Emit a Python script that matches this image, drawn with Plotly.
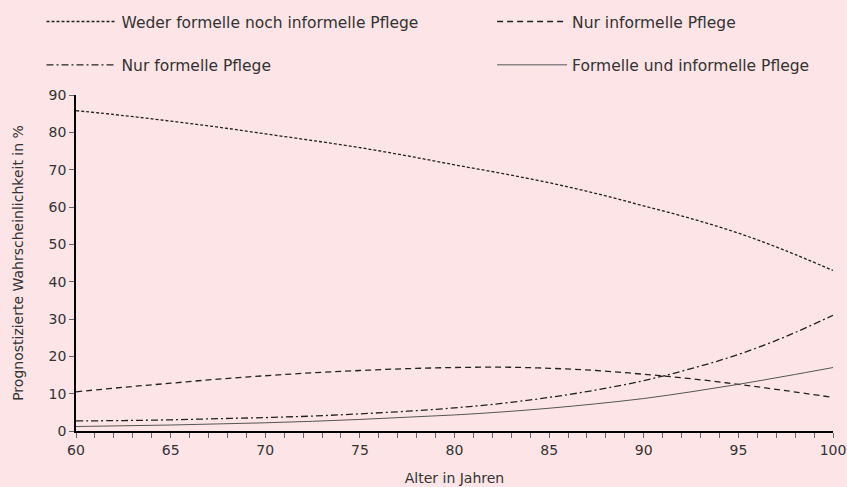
import plotly.graph_objects as go

age = [60, 62.5, 65, 67.5, 70, 72.5, 75, 77.5, 80, 82.5, 85, 87.5, 90, 92.5, 95, 97.5, 100]
weder = [85.8, 84.5, 83.0, 81.4, 79.6, 77.8, 75.9, 73.7, 71.3, 69.0, 66.5, 63.6, 60.3, 56.9, 53.0, 48.3, 43.0]
nur_informell = [10.5, 11.7, 12.8, 13.9, 14.8, 15.6, 16.2, 16.7, 17.0, 17.1, 16.8, 16.2, 15.2, 14.0, 12.5, 10.8, 9.0]
nur_formell = [2.7, 2.8, 3.0, 3.3, 3.6, 4.0, 4.6, 5.3, 6.2, 7.4, 9.0, 11.0, 13.5, 16.7, 20.5, 25.3, 31.0]
beides = [1.2, 1.4, 1.6, 1.9, 2.2, 2.6, 3.1, 3.7, 4.3, 5.1, 6.1, 7.3, 8.7, 10.5, 12.5, 14.7, 17.0]

names = ["Weder formelle noch informelle Pflege", "Nur informelle Pflege",
         "Nur formelle Pflege", "Formelle und informelle Pflege"]
series = [weder, nur_informell, nur_formell, beides]
dashes = ["3px,2px", "6px,4px", "7px,3px,2px,3px", "solid"]
colors = ["#222222", "#222222", "#222222", "#555555"]
widths = [1.3, 1.3, 1.3, 1.0]
legend_ids = ["legend2", "legend3", "legend4", "legend5"]
legend_x = [0.049, 0.581, 0.049, 0.581]
legend_y = [0.955, 0.955, 0.866, 0.866]

bg = "#FDE4E6"
fig = go.Figure()
for n, s, d, c, w, lg in zip(names, series, dashes, colors, widths, legend_ids):
    fig.add_trace(go.Scatter(x=age, y=s, name=n, mode="lines", line_shape="spline",
                             line=dict(color=c, width=w, dash=d), legend=lg))

fam = "'DejaVu Sans', sans-serif"
font = dict(family=fam, size=14, color="#333333")
legs = {}
for lg, lx, ly in zip(legend_ids, legend_x, legend_y):
    legs[lg] = dict(orientation="h", xref="container", yref="container", x=lx, y=ly,
                    xanchor="left", yanchor="middle", itemwidth=70,
                    bgcolor="rgba(0,0,0,0)", font=dict(family=fam, size=15.5, color="#333333"),
                    itemclick=False)
fig.update_layout(
    width=847, height=487,
    paper_bgcolor=bg, plot_bgcolor=bg,
    font=font,
    margin=dict(l=76, r=14, t=95, b=56, autoexpand=False),
    **legs,
    xaxis=dict(range=[60, 100], dtick=5, tick0=60, showgrid=False, zeroline=False,
               showline=True, linecolor="black", linewidth=1.5,
               ticks="outside", ticklen=5, tickcolor="#666666",
               minor=dict(dtick=1, ticks="outside", ticklen=5, tickcolor="#666666"),
               title=dict(text="Alter in Jahren", standoff=17, font=dict(size=14)),
               tickfont=dict(size=14)),
    yaxis=dict(range=[0, 90], dtick=10, showgrid=False, zeroline=False,
               showline=True, linecolor="black", linewidth=1.5,
               ticks="outside", ticklen=5, tickcolor="#666666",
               title=dict(text="Prognostizierte Wahrscheinlichkeit in %", standoff=22,
                          font=dict(size=14)),
               tickfont=dict(size=14)),
)
fig.write_html("out.html", config={"displayModeBar": False},
               post_script="document.body.style.margin='0px';document.body.style.background='%s';" % bg)
